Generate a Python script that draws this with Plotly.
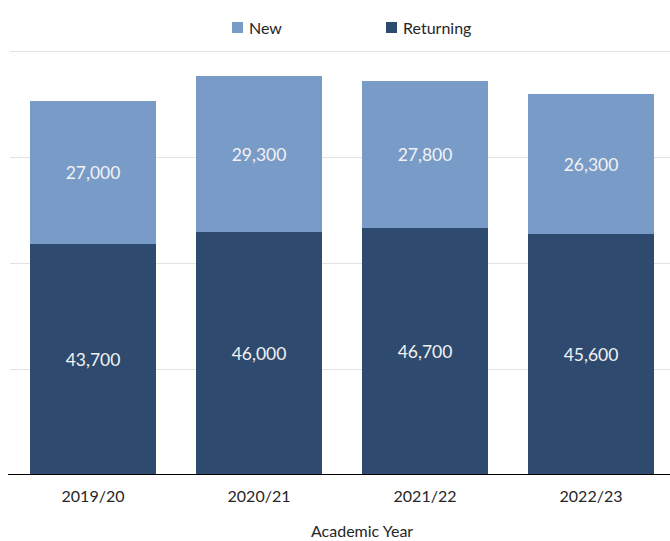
import plotly.graph_objects as go

years = ["2019/20", "2020/21", "2021/22", "2022/23"]
returning = [43700, 46000, 46700, 45600]
new = [27000, 29300, 27800, 26300]
legend_names = ["New", "Returning"]

DARK = "#2E4A6F"
LIGHT = "#799BC8"
FONT = "Lato, 'Open Sans', sans-serif"
TEXT = "#262626"

W, H = 670, 541
ML, MR, MT, MB = 10, 0, 50, 66


def px_x(px):
    return (px - ML) / (W - ML - MR)


def px_y(py):
    return (H - MB - py) / (H - MT - MB)


fig = go.Figure()
fig.add_trace(go.Bar(
    x=years, y=returning, name="Returning",
    marker=dict(color=DARK, line=dict(width=0)),
    texttemplate="%{y:,}", textposition="inside", insidetextanchor="middle",
    textfont=dict(color="#F2F2F2", size=17.5, family=FONT),
))
fig.add_trace(go.Bar(
    x=years, y=new, name="New",
    marker=dict(color=LIGHT, line=dict(width=0)),
    texttemplate="%{y:,}", textposition="inside", insidetextanchor="middle",
    textfont=dict(color="#F2F2F2", size=17.5, family=FONT),
))

fig.update_layout(
    width=W, height=H,
    barmode="stack", bargap=0.24,
    paper_bgcolor="white", plot_bgcolor="white",
    margin=dict(l=ML, r=MR, t=MT, b=MB),
    font=dict(family=FONT, color=TEXT, size=16),
    showlegend=False,
    xaxis=dict(
        range=[-0.5, 3.476],
        showgrid=False, showline=False, ticks="",
        ticklabelstandoff=10,
        tickfont=dict(size=16, family=FONT, color=TEXT),
    ),
    yaxis=dict(
        range=[0, 80300], dtick=20000,
        showgrid=True, gridcolor="#E3E3E3", gridwidth=1,
        showticklabels=False, ticks="", zeroline=False, showline=False,
    ),
)

# baseline along the bottom of the bars
fig.add_shape(type="line", xref="paper", yref="y", x0=px_x(8), x1=1.0, y0=0, y1=0,
              line=dict(color="black", width=2))

# axis title
fig.add_annotation(text="Academic Year", xref="paper", yref="paper",
                   x=px_x(362), y=px_y(530), xanchor="center", yanchor="middle",
                   showarrow=False, font=dict(size=16, family=FONT, color=TEXT))

# legend: swatch + label per series
legend_colors = [LIGHT, DARK]
legend_x = [232, 386]
for name, color, lx in zip(legend_names, legend_colors, legend_x):
    fig.add_shape(type="rect", xref="paper", yref="paper",
                  x0=px_x(lx), x1=px_x(lx + 11), y0=px_y(33), y1=px_y(22),
                  fillcolor=color, line=dict(width=0))
    fig.add_annotation(text=name, xref="paper", yref="paper",
                       x=px_x(lx + 15), y=px_y(27.5), xanchor="left", yanchor="middle",
                       showarrow=False, font=dict(size=16, family=FONT, color=TEXT))

fig.write_html("out.html")
